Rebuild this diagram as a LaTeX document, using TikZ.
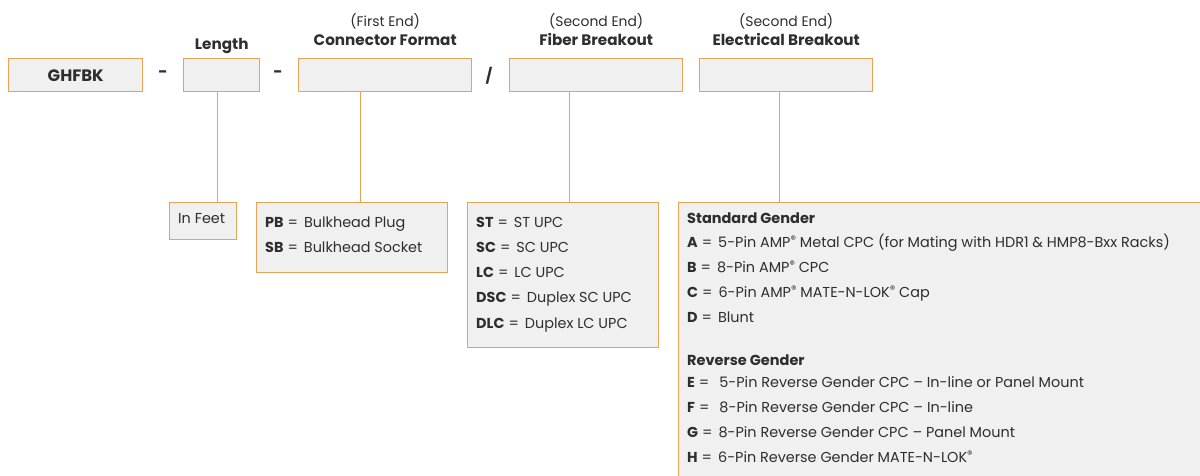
\documentclass[tikz,border=0pt]{standalone}
\usepackage{fontspec}
\setmainfont{Poppins}
\definecolor{orng}{HTML}{E9A356}
\definecolor{lgrey}{HTML}{F0F0F0}
\definecolor{ink}{HTML}{2E2E2E}
\usetikzlibrary{positioning}
\newcommand{\regmark}{\raisebox{0.5ex}{\scalebox{0.75}{®}}}
\newcommand{\eqsign}{\hspace{4pt}=\hspace{6pt}}

\begin{document}
\begin{tikzpicture}[x=1pt,y=-1pt,
	field/.style={draw=orng,fill=lgrey,line width=1.4pt,inner sep=0pt,anchor=north west},
	wire/.style={draw=orng,line width=1.4pt},
	txt/.style={text=ink,inner sep=0pt,anchor=base west,font=\fontsize{14.4}{16}\selectfont},
	head/.style={text=ink,inner sep=0pt,anchor=base,font=\fontsize{15.2}{17}\selectfont\bfseries},
	note/.style={text=ink,inner sep=0pt,anchor=base,font=\fontsize{13.9}{16}\selectfont}]
	\useasboundingbox (0,0) rectangle (1200,475);
	\fill[white] (0,0) rectangle (1200,475);
	% part number fields
	\node[field,minimum width=134pt,minimum height=33pt,text=ink,font=\fontsize{16.5}{18}\selectfont\bfseries] (code) at (8,58) {GHFBK};
	\node[field,minimum width=76pt,minimum height=33pt] (lenbox) at (183,58) {};
	\node[field,minimum width=173pt,minimum height=33pt] (conbox) at (298,58) {};
	\node[field,minimum width=173pt,minimum height=33pt] (fibbox) at (509,58) {};
	\node[field,minimum width=173pt,minimum height=33pt] (elecbox) at (699,58) {};
	\node[text=ink,font=\fontsize{16}{16}\selectfont\bfseries] (sep1) at (163,74) {-};
	\node[text=ink,font=\fontsize{16}{16}\selectfont\bfseries] (sep2) at (278,74) {-};
	\node[text=ink,font=\fontsize{15}{16}\selectfont\bfseries] (sep3) at (489,76) {/};
	% headings
	\node[head] (lenhead) at (lenbox.north |- 0,49) {Length};
	\node[note] (conend) at (conbox.north |- 0,26) {(First End)};
	\node[head] (conhead) at (conbox.north |- 0,45) {Connector Format};
	\node[note] (fibend) at (fibbox.north |- 0,26) {(Second End)};
	\node[head] (fibhead) at (fibbox.north |- 0,45) {Fiber Breakout};
	\node[note] (elecend) at (elecbox.north |- 0,26) {(Second End)};
	\node[head] (elechead) at (elecbox.north |- 0,45) {Electrical Breakout};
	% option boxes
	\node[field,minimum width=67pt,minimum height=37pt] (feet) at (169,202) {};
	\node[field,minimum width=191pt,minimum height=70pt] (conopt) at (256,202) {};
	\node[field,minimum width=191pt,minimum height=145pt] (fibopt) at (467,202) {};
	\node[field,minimum width=540pt,minimum height=290pt] (elecopt) at (678,202) {};
	% connectors
	\draw[wire] ([xshift=-4pt]lenbox.south) -- ([xshift=-4pt]lenbox.south |- feet.north);
	\draw[wire] ([xshift=-24.5pt]conbox.south) -- ([xshift=-24.5pt]conbox.south |- conopt.north);
	\draw[wire] ([xshift=-26.5pt]fibbox.south) -- ([xshift=-26.5pt]fibbox.south |- fibopt.north);
	\draw[wire] ([xshift=-6.5pt]elecbox.south) -- ([xshift=-6.5pt]elecbox.south |- elecopt.north);
	% option texts
	\node[txt] (feettxt) at (178,223) {In Feet};
	\foreach \c/\t [count=\i from 0] in {PB/Bulkhead Plug, SB/Bulkhead Socket}
	\node[txt] (con\i) at (265,{227+\i*25.3}) {\textbf{\c}\eqsign\t};
	\foreach \c/\t [count=\i from 0] in {ST/ST UPC, SC/SC UPC, LC/LC UPC, DSC/Duplex SC UPC, DLC/Duplex LC UPC}
	\node[txt] (fib\i) at (476,{227+\i*25.3}) {\textbf{\c}\eqsign\t};
	\node[txt,font=\fontsize{14.5}{16}\selectfont\bfseries] (stdhead) at (687,223) {Standard Gender};
	\foreach \c/\t [count=\i from 0] in {A/5-Pin AMP\regmark\ Metal CPC (for Mating with HDR1 \& HMP8-Bxx Racks), B/8-Pin AMP\regmark\ CPC, C/6-Pin AMP\regmark\ MATE-N-LOK\regmark\ Cap, D/Blunt}
	\node[txt] (std\i) at (687,{247+\i*25.3}) {\textbf{\c}\eqsign\t};
	\node[txt,font=\fontsize{14.5}{16}\selectfont\bfseries] (revhead) at (687,365) {Reverse Gender};
	\foreach \c/\t [count=\i from 0] in {E/\hspace{4pt}5-Pin Reverse Gender CPC -- In-line or Panel Mount, F/\hspace{4pt}8-Pin Reverse Gender CPC -- In-line, G/8-Pin Reverse Gender CPC -- Panel Mount, H/6-Pin Reverse Gender MATE-N-LOK\regmark}
	\node[txt] (rev\i) at (687,{387+\i*25.3}) {\textbf{\c}\eqsign\t};
\end{tikzpicture}
\end{document}
